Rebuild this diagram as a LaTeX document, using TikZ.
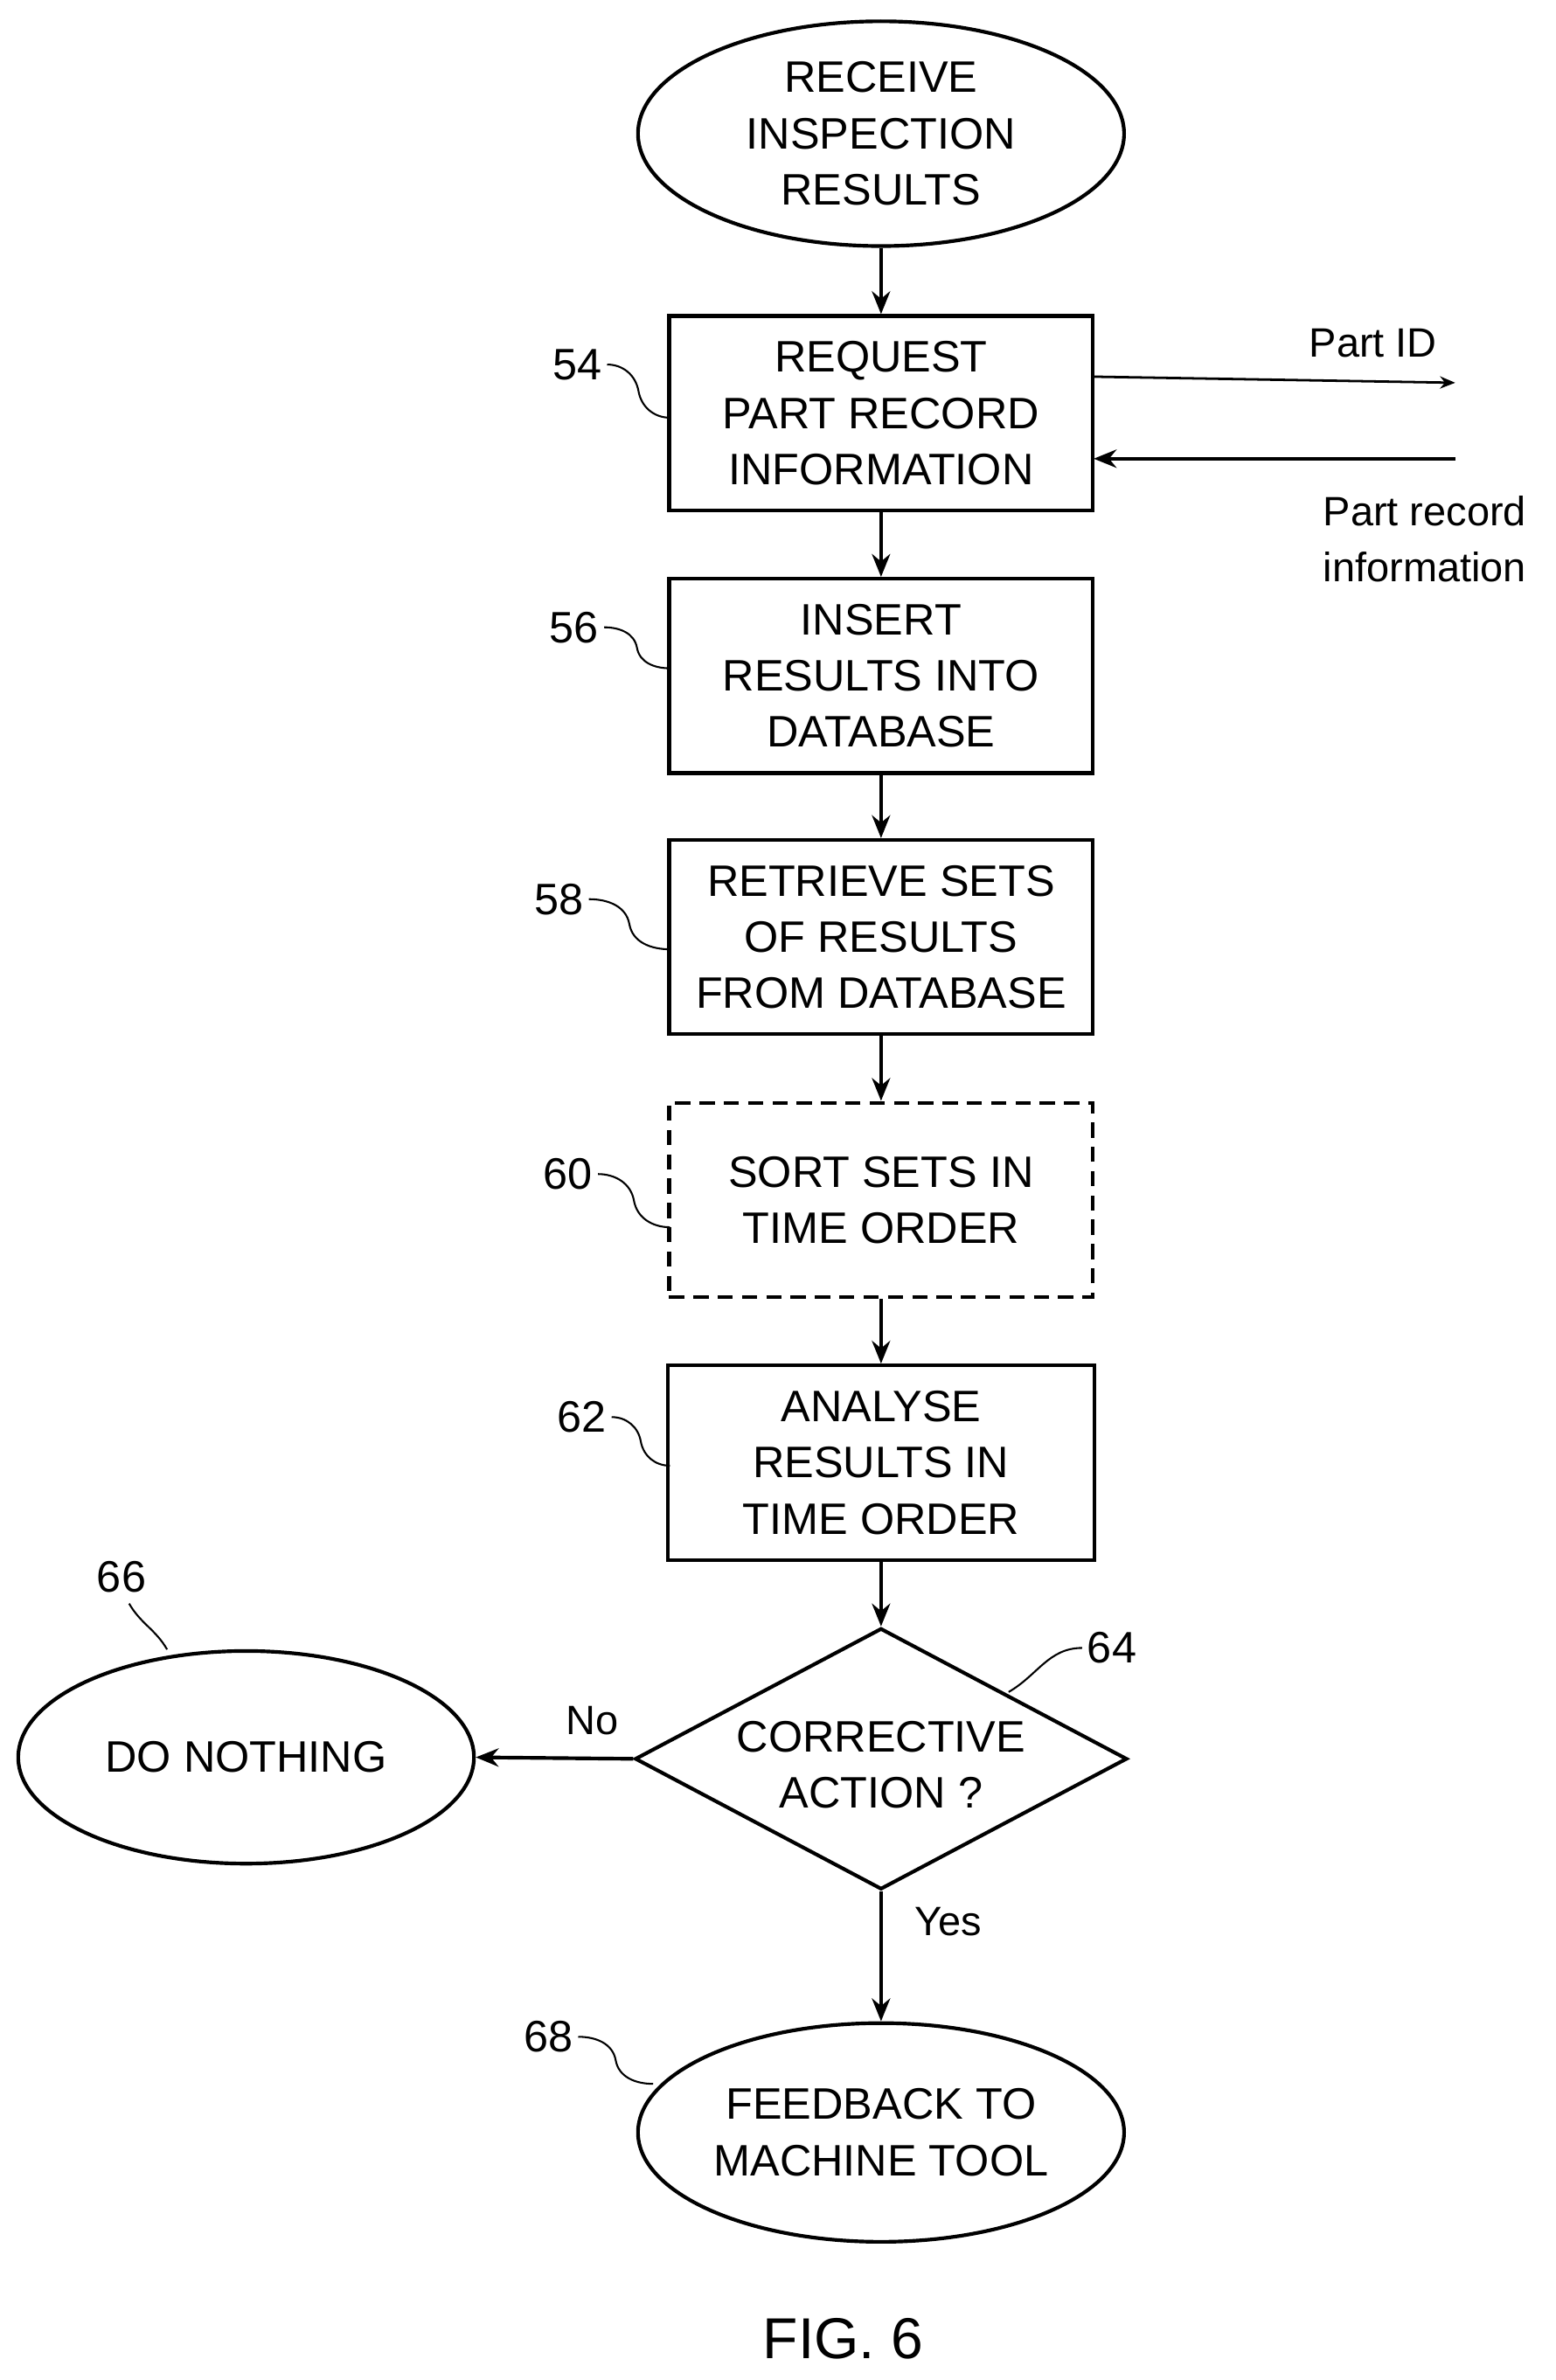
\documentclass[tikz,border=0pt]{standalone}
\usepackage{fontspec}
\setmainfont{Liberation Sans}
\usetikzlibrary{shapes.geometric,arrows.meta,calc}
\begin{document}
\begin{tikzpicture}[x=1pt,y=-1pt,
  every node/.style={font=\fontsize{29}{37}\selectfont},
  ln/.style={line width=2.4pt},
  box/.style={ln,draw,rectangle,minimum width=279pt,minimum height=128pt,align=center,inner sep=0pt},
  ell/.style={ln,draw,ellipse,minimum width=320pt,minimum height=148pt,align=center,inner sep=0pt},
  arr/.style={ln,-{Stealth[length=15pt,width=12pt]}},
  num/.style={font=\fontsize{29}{34}\selectfont},
  lead/.style={line width=1.2pt},
  lab/.style={font=\fontsize{27}{37}\selectfont,align=left}]
\useasboundingbox (0,0) rectangle (1024,1567);
\node[ell] (s) at (580,88) {RECEIVE\\INSPECTION\\RESULTS};
\node[box] (b54) at (580,272) {REQUEST\\PART RECORD\\INFORMATION};
\node[box] (b56) at (580,445) {INSERT\\RESULTS INTO\\DATABASE};
\node[box] (b58) at (580,617) {RETRIEVE SETS\\OF RESULTS\\FROM DATABASE};
\node[box,dashed,dash pattern=on 10pt off 6pt] (b60) at (580,790) {SORT SETS IN\\TIME ORDER};
\node[box,minimum width=281pt] (b62) at (580,963) {ANALYSE\\RESULTS IN\\TIME ORDER};
\node[ln,draw,diamond,minimum width=324pt,minimum height=172pt,inner sep=0pt] (d) at (580,1158) {};
\node[align=center] at (580,1162) {CORRECTIVE\\ACTION ?};
\node[ell,minimum width=300pt,minimum height=140pt] (e66) at (162,1157) {DO NOTHING};
\node[ell,minimum height=144pt] (e68) at (580,1404) {FEEDBACK TO\\MACHINE TOOL};
\node[font=\fontsize{38}{44}\selectfont] (fig) at (555,1540) {FIG. 6};

\draw[arr] (s) -- (b54);
\draw[arr] (b54) -- (b56);
\draw[arr] (b56) -- (b58);
\draw[arr] (b58) -- (b60);
\draw[arr] (b60) -- (b62);
\draw[arr] (b62) -- (d.north);
\draw[arr] (d.west) -- (e66.east);
\draw[arr] (d.south) -- (e68.north);
\node[lab] (no) at (390,1133) {No};
\node[lab] (yes) at (624,1265) {Yes};

\coordinate (pidA) at (720,248);
\coordinate (pidB) at (958,252);
\draw[line width=1.6pt,-{Stealth[length=10pt,width=8pt]}] (pidA) -- (pidB);
\node[lab] (pid) at (904,226) {Part ID};
\coordinate (prA) at (958,302);
\coordinate (prB) at (720,302);
\draw[arr] (prA) -- (prB);
\node[lab,align=left] (pr) at (938,355) {Part record\\information};

\node[num] (n54) at (380,240) {54};
\node[num] (n56) at (378,413) {56};
\node[num] (n58) at (368,592) {58};
\node[num] (n60) at (374,773) {60};
\node[num] (n62) at (383,933) {62};
\node[num] (n66) at (80,1038) {66};
\node[num] (n64) at (732,1085) {64};
\node[num] (n68) at (361,1341) {68};
\coordinate (t54) at (441,275);
\coordinate (t56) at (441,440);
\coordinate (t58) at (441,625);
\coordinate (t60) at (441,808);
\coordinate (t62) at (441,965);
\coordinate (t68) at (430,1372);
\coordinate (t66) at (110,1086);
\coordinate (t64) at (664,1114);
\foreach \n in {54,56,58,60,62,68}{
  \draw[lead] (n\n.east) to[out=0,in=100] ($(n\n.east)!0.5!(t\n)$) to[out=-80,in=180] (t\n);
}
\draw[lead] (n66.south) ++(5,4) to[out=-60,in=120] (t66);
\draw[lead] (n64.west) to[out=180,in=30] (t64);
\end{tikzpicture}
\end{document}
